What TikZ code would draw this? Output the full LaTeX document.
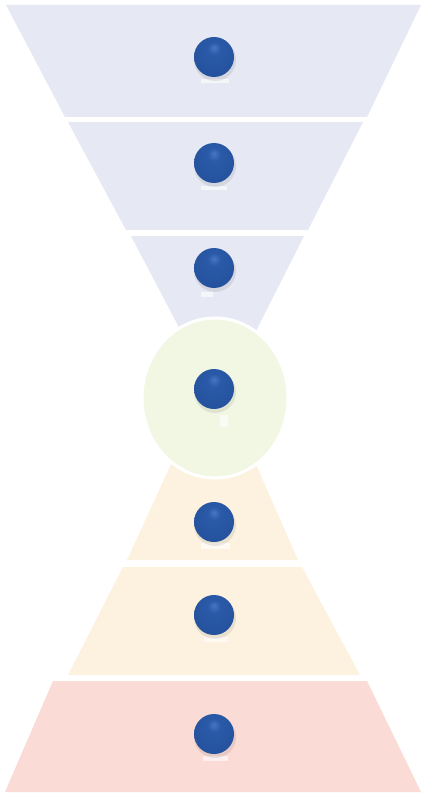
\documentclass[tikz,border=0pt]{standalone}
\usetikzlibrary{shapes.geometric}
\definecolor{funnel}{RGB}{230,233,243}
\definecolor{hub}{RGB}{242,247,228}
\definecolor{peach}{RGB}{253,242,224}
\definecolor{pinkbase}{RGB}{250,219,214}
\definecolor{blA}{RGB}{70,118,196}
\definecolor{blB}{RGB}{42,90,168}
\definecolor{blC}{RGB}{34,78,152}
\definecolor{blD}{RGB}{18,50,108}
\pgfdeclareradialshading{bluesphere}{\pgfpoint{0bp}{12bp}}{%
  color(0bp)=(blA); color(8bp)=(blB); color(40bp)=(blC); color(58bp)=(blD); color(64bp)=(blD)}
\tikzset{
  band/.style={fill=#1, draw=none},
  sphere/.style={circle, minimum size=40pt, inner sep=0pt, shading=bluesphere},
  shadowdisc/.style={circle, minimum size=42pt, inner sep=0pt, fill=black, opacity=0.08},
  whitebar/.style={fill=white, draw=none, opacity=0.6}
}
\begin{document}
\begin{tikzpicture}[x=1pt,y=-1pt]
\useasboundingbox (0,0) rectangle (421,794);
\fill[white] (0,0) rectangle (421,794);
% top funnel
\fill[band=funnel] (6,5) -- (421,5) -- (367,117) -- (65,117) -- cycle;
\fill[band=funnel] (68,122) -- (363,122) -- (308,230) -- (126,230) -- cycle;
\fill[band=funnel] (131,236) -- (304,236) -- (254,335) -- (183,335) -- cycle;
% bottom pyramid
\fill[band=peach] (173,460) -- (254,460) -- (298,560) -- (127,560) -- cycle;
\fill[band=peach] (123,567) -- (302,567) -- (360,675) -- (68,675) -- cycle;
\fill[band=pinkbase] (53,681) -- (367,681) -- (421,792) -- (5,792) -- cycle;
% central circle
\node[ellipse, minimum width=146pt, minimum height=160pt, fill=hub, draw=white, line width=3pt] (hubc) at (215,398) {};
% white placeholder bars
\fill[whitebar] (201,79) rectangle (229,83);
\fill[whitebar] (201,186) rectangle (227,190);
\fill[whitebar] (201,292) rectangle (213,297);
\fill[whitebar] (220,415) rectangle (228,427);
\fill[whitebar] (201,543) rectangle (230,549);
\fill[whitebar] (204,637) rectangle (228,642);
\fill[whitebar] (203,756) rectangle (228,761);
% spheres with soft shadows
\foreach \n/\y in {1/57, 2/163, 3/268, 4/389, 5/522, 6/615, 7/734} {
  \node[shadowdisc] at (215,\y+3) {};
  \node[sphere] (b\n) at (214,\y) {};
}
\end{tikzpicture}
\end{document}
